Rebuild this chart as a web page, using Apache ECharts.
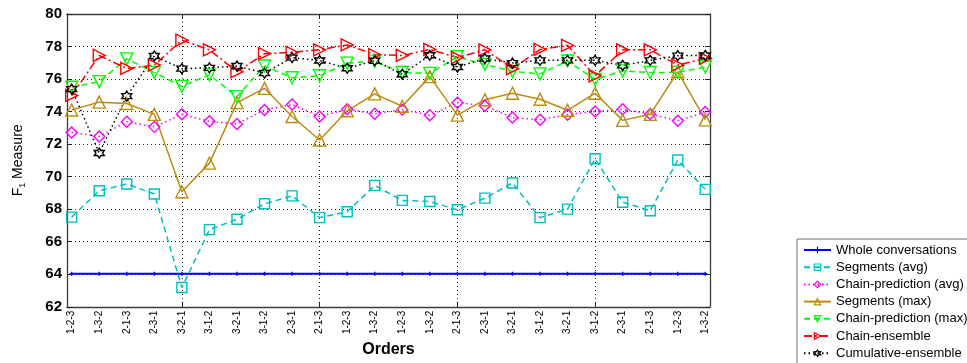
<!DOCTYPE html>
<html>
<head>
<meta charset="utf-8">
<script src="https://cdn.jsdelivr.net/npm/echarts@6/dist/echarts.min.js"></script>
<style>
html,body{margin:0;padding:0;background:#fff;}
#chart{width:967px;height:363px;}
</style>
</head>
<body>
<div id="chart"></div>
<script>
// ---- data ----
var ORDERS = ['1-2-3','1-3-2','2-1-3','2-3-1','3-2-1','3-1-2','3-2-1','3-1-2','2-3-1','2-1-3','1-2-3','1-3-2',
              '1-2-3','1-3-2','2-1-3','2-3-1','3-2-1','3-1-2','3-2-1','3-1-2','2-3-1','2-1-3','1-2-3','1-3-2'];
var Y_TICKS = [62, 64, 66, 68, 70, 72, 74, 76, 78, 80];
var X_GRID_IDX = [4, 9, 14, 19];
var WHOLE   = [64.03,64.03,64.03,64.03,64.03,64.03,64.03,64.03,64.03,64.03,64.03,64.03,
               64.03,64.03,64.03,64.03,64.03,64.03,64.03,64.03,64.03,64.03,64.03,64.03];
var SEG_AVG = [67.51,69.13,69.55,68.93,63.18,66.74,67.38,68.33,68.82,67.48,67.84,69.46,
               68.54,68.47,67.96,68.68,69.61,67.48,68.00,71.10,68.43,67.90,71.02,69.22];
var CP_AVG  = [72.72,72.47,73.38,73.06,73.83,73.40,73.24,74.10,74.43,73.70,74.14,73.87,
               74.12,73.77,74.55,74.36,73.63,73.50,73.81,74.00,74.14,73.85,73.44,73.97];
var SEG_MAX = [74.10,74.58,74.50,73.83,69.07,70.83,74.55,75.43,73.70,72.25,74.05,75.09,
               74.33,76.15,73.78,74.73,75.13,74.76,74.08,75.13,73.46,73.83,76.45,73.49];
var CP_MAX  = [75.50,75.84,77.24,76.40,75.55,76.26,74.92,76.80,76.08,76.20,76.98,77.10,
               76.40,76.35,77.37,76.90,76.47,76.32,77.11,75.97,76.50,76.40,76.42,76.74];
var CH_ENS  = [74.99,77.45,76.65,76.86,78.39,77.80,76.45,77.56,77.64,77.80,78.10,77.50,
               77.45,77.82,77.32,77.80,76.64,77.82,78.07,76.20,77.80,77.80,76.86,77.27];
var CUM_ENS = [75.38,71.45,74.95,77.42,76.64,76.69,76.80,76.37,77.32,77.14,76.66,77.13,
               76.30,77.46,76.74,77.26,76.98,77.15,77.15,77.15,76.84,77.15,77.44,77.45];
var NAMES = ['Whole conversations','Segments (avg)','Chain-prediction (avg)','Segments (max)',
             'Chain-prediction (max)','Chain-ensemble','Cumulative-ensemble'];

// ---- styles ----
var FONT = '"Liberation Sans", Arial, sans-serif';
var TRI_DOWN = 'path://M0,0 L20,0 L10,18 Z';
var TRI_RIGHT = 'path://M0,0 L18,10 L0,20 Z';
var HEXA = 'path://M10,0 L12.89,5 L18.66,5 L15.77,10 L18.66,15 L12.89,15 L10,20 L7.11,15 L1.34,15 L4.23,10 L1.34,5 L7.11,5 Z';
var DOT = 'path://M0,4 L8,4 M4,0 L4,8';

function pts(arr){ return arr.map(function(v,i){ return [i, v]; }); }
function mk(name, data, color, lineType, width, symbol, size){
  return {
    name: name, type: 'line', data: pts(data),
    symbol: symbol, symbolSize: size, showSymbol: true,
    lineStyle: {color: color, width: width, type: lineType},
    itemStyle: {color: 'rgba(0,0,0,0)', borderColor: color, borderWidth: 1.4},
    emphasis: {disabled: true},
    clip: true
  };
}

var idxs = ORDERS.map(function(_, i){ return i; });
var axisLineStyle = {color: '#3c3c3c', width: 1.3};
var gridLine = {show: true, lineStyle: {color: '#222', width: 1, type: [1, 3]}};

var option = {
  animation: false,
  backgroundColor: '#fff',
  grid: {left: 67, right: 257, top: 14, bottom: 40},
  legend: {
    orient: 'vertical', left: 797, top: 239, height: 150, width: 200,
    padding: [4, 6, 6, 6], itemGap: 3.2, itemWidth: 27, itemHeight: 8,
    backgroundColor: '#fff', borderColor: '#707070', borderWidth: 1,
    itemStyle: {color: 'rgba(0,0,0,0)', borderWidth: 1.2},
    textStyle: {fontFamily: FONT, fontSize: 13, lineHeight: 14, color: '#000'},
    data: NAMES
  },
  xAxis: [{
    type: 'value', position: 'bottom', min: -0.17, max: 23.17,
    name: 'Orders', nameLocation: 'middle', nameGap: 24,
    nameTextStyle: {fontFamily: FONT, fontSize: 16, fontWeight: 'bold', color: '#000'},
    axisLine: {show: true, onZero: false, lineStyle: axisLineStyle},
    axisTick: {show: true, inside: true, length: 5, customValues: X_GRID_IDX, lineStyle: {color: '#222'}},
    axisLabel: {show: true, customValues: idxs, rotate: 90, margin: 4, fontFamily: FONT, fontSize: 10, color: '#000',
      formatter: function(v){ return ORDERS[Math.round(v)]; }},
    splitLine: gridLine
  }, {
    type: 'value', position: 'top', min: -0.17, max: 23.17,
    axisLine: {show: true, onZero: false, lineStyle: axisLineStyle},
    axisTick: {show: true, inside: true, length: 5, customValues: X_GRID_IDX, lineStyle: {color: '#222'}},
    axisLabel: {show: false},
    splitLine: {show: false}
  }],
  yAxis: [{
    type: 'value', position: 'left', min: Y_TICKS[0], max: Y_TICKS[Y_TICKS.length-1], interval: 2,
    name: '{a|F}{s|1}{a| Measure}', nameLocation: 'middle', nameGap: 40, nameRotate: 90,
    nameTextStyle: {color: '#000', rich: {
      a: {fontFamily: FONT, fontSize: 14, color: '#000'},
      s: {fontFamily: FONT, fontSize: 9, color: '#000', verticalAlign: 'bottom', padding: [8, 0, 0, 0]}
    }},
    axisLine: {show: true, onZero: false, lineStyle: axisLineStyle},
    axisTick: {show: true, inside: true, length: 5, lineStyle: {color: '#222'}},
    axisLabel: {fontFamily: FONT, fontSize: 15, fontWeight: 'bold', color: '#000', margin: 5},
    splitLine: gridLine
  }, {
    type: 'value', position: 'right', min: Y_TICKS[0], max: Y_TICKS[Y_TICKS.length-1], interval: 2,
    axisLine: {show: true, onZero: false, lineStyle: axisLineStyle},
    axisTick: {show: true, inside: true, length: 5, lineStyle: {color: '#222'}},
    axisLabel: {show: false},
    splitLine: {show: false}
  }],
  series: [
    mk(NAMES[0], WHOLE,   '#0000FF', 'solid',       2,   DOT, 4),
    mk(NAMES[1], SEG_AVG, '#00BFBF', [6, 4],         1.5, 'rect', 10),
    mk(NAMES[2], CP_AVG,  '#FF00FF', [1.5, 3],      1.5, 'diamond', 11),
    mk(NAMES[3], SEG_MAX, '#BF8A10', 'solid',       1.5, 'triangle', 12),
    mk(NAMES[4], CP_MAX,  '#00FF00', [6, 4],         1.5, TRI_DOWN, 12),
    mk(NAMES[5], CH_ENS,  '#FF0000', [8, 3, 2, 3],  1.5, TRI_RIGHT, 12),
    mk(NAMES[6], CUM_ENS, '#000000', [1.5, 3],      1.5, HEXA, 10)
  ]
};

var chart = echarts.init(document.getElementById('chart'), null, {renderer: 'canvas'});
chart.setOption(option);
</script>
</body>
</html>
